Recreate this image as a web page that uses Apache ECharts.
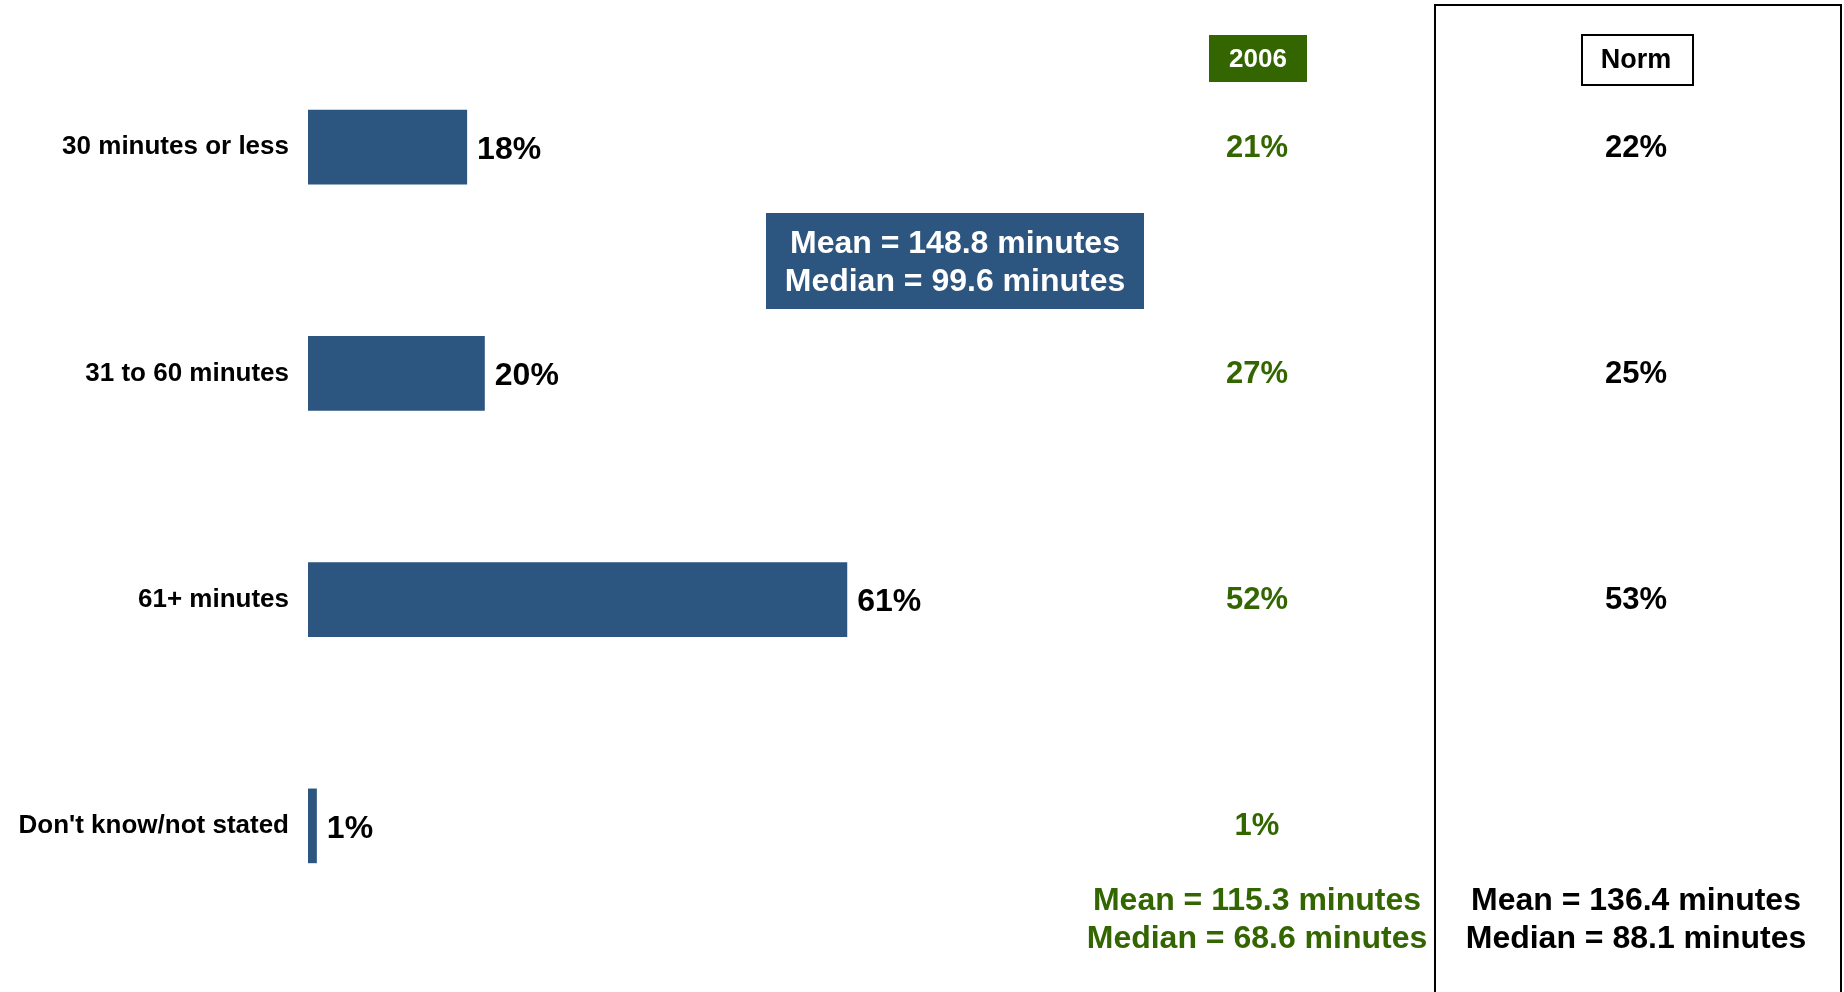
<!DOCTYPE html>
<html>
<head>
<meta charset="utf-8">
<script src="https://cdn.jsdelivr.net/npm/echarts@6/dist/echarts.min.js"></script>
<style>
  html, body { margin: 0; padding: 0; background: #fff; }
  #myChart { width: 1844px; height: 992px; }
</style>
</head>
<body>
<div id="myChart"></div>
<script>
  // data
  const categories = ['30 minutes or less', '31 to 60 minutes', '61+ minutes', "Don't know/not stated"];
  const current = [18, 20, 61, 1];
  const year2006 = [21, 27, 52, 1];
  const norm = [22, 25, 53, null];
  const currentStats = ['Mean = 148.8 minutes', 'Median = 99.6 minutes'];
  const stats2006 = ['Mean = 115.3 minutes', 'Median = 68.6 minutes'];
  const normStats = ['Mean = 136.4 minutes', 'Median = 88.1 minutes'];

  const FONT = '"Liberation Sans", Arial, sans-serif';
  const BLUE = '#2C5580';
  const GREEN = '#336600';

  let myChart = echarts.init(document.getElementById('myChart'));

  function colAxis(idx) {
    return {
      type: 'category',
      data: categories,
      inverse: true,
      gridIndex: idx,
      axisLine: { show: false },
      axisTick: { show: false },
      axisLabel: { show: false }
    };
  }

  function colSeries(idx, values, color) {
    return {
      type: 'scatter',
      xAxisIndex: idx,
      yAxisIndex: idx,
      symbolSize: 0,
      silent: true,
      itemStyle: { opacity: 1, color: color },
      data: values.map(function (v, i) { return v == null ? null : [0, categories[i], v]; }),
      label: {
        show: true,
        position: 'inside',
        offset: [0, 1],
        opacity: 1,
        formatter: function (p) { return p.value[2] + '%'; },
        color: color,
        fontFamily: FONT,
        fontWeight: 'bold',
        fontSize: 31
      }
    };
  }

  myChart.setOption({
    animation: false,
    backgroundColor: '#fff',
    grid: [
      { left: 308, top: 34, width: 884, height: 905 },
      { left: 1207, top: 34, width: 100, height: 905 },
      { left: 1586, top: 34, width: 100, height: 905 }
    ],
    xAxis: [
      { type: 'value', min: 0, max: 100, gridIndex: 0, show: false },
      { type: 'value', min: -1, max: 1, gridIndex: 1, show: false },
      { type: 'value', min: -1, max: 1, gridIndex: 2, show: false }
    ],
    yAxis: [
      {
        type: 'category',
        data: categories,
        inverse: true,
        gridIndex: 0,
        axisLine: { show: false },
        axisTick: { show: false },
        axisLabel: {
          margin: 19,
          color: '#000',
          fontFamily: FONT,
          fontWeight: 'bold',
          fontSize: 26
        }
      },
      colAxis(1),
      colAxis(2)
    ],
    series: [
      {
        type: 'bar',
        xAxisIndex: 0,
        yAxisIndex: 0,
        data: current,
        barCategoryGap: '67%',
        itemStyle: { color: BLUE },
        label: {
          show: true,
          position: 'right',
          distance: 10,
          offset: [0, 3],
          formatter: '{c}%',
          color: '#000',
          fontFamily: FONT,
          fontWeight: 'bold',
          fontSize: 32
        }
      },
      colSeries(1, year2006, GREEN),
      colSeries(2, norm, '#000')
    ],
    graphic: [
      // norm panel frame
      {
        type: 'polyline',
        shape: { points: [[1435, 992], [1435, 5], [1841, 5], [1841, 992]] },
        style: { stroke: '#000', lineWidth: 2, fill: null }
      },
      // 2006 header
      {
        type: 'rect',
        shape: { x: 1209, y: 35, width: 98, height: 47 },
        style: { fill: GREEN }
      },
      {
        type: 'text',
        x: 1258, y: 60,
        style: {
          text: '2006', fill: '#fff', font: 'bold 26px ' + FONT,
          align: 'center', verticalAlign: 'middle'
        }
      },
      // norm header
      {
        type: 'rect',
        shape: { x: 1582, y: 35, width: 111, height: 50 },
        style: { fill: '#fff', stroke: '#000', lineWidth: 2 }
      },
      {
        type: 'text',
        x: 1636, y: 61,
        style: {
          text: 'Norm', fill: '#000', font: 'bold 27px ' + FONT,
          align: 'center', verticalAlign: 'middle'
        }
      },
      // current mean / median box
      {
        type: 'rect',
        shape: { x: 766, y: 213, width: 378, height: 96 },
        style: { fill: BLUE }
      },
      {
        type: 'text',
        x: 955, y: 263,
        style: {
          text: currentStats.join('\n'), fill: '#fff', font: 'bold 32px ' + FONT,
          lineHeight: 38, align: 'center', verticalAlign: 'middle'
        }
      },
      {
        type: 'text',
        x: 1257, y: 920,
        style: {
          text: stats2006.join('\n'), fill: GREEN, font: 'bold 32px ' + FONT,
          lineHeight: 38, align: 'center', verticalAlign: 'middle'
        }
      },
      {
        type: 'text',
        x: 1636, y: 920,
        style: {
          text: normStats.join('\n'), fill: '#000', font: 'bold 32px ' + FONT,
          lineHeight: 38, align: 'center', verticalAlign: 'middle'
        }
      }
    ]
  });
</script>
</body>
</html>
